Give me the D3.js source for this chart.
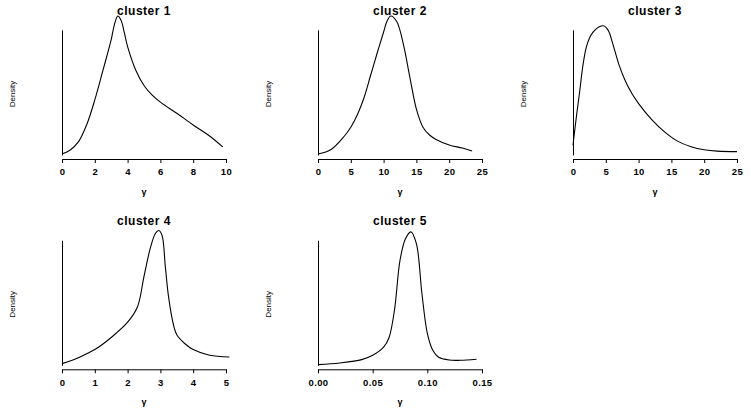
<!DOCTYPE html>
<html>
<head>
<meta charset="utf-8">
<script src="https://cdn.jsdelivr.net/npm/d3@7"></script>
<style>
  html, body { margin: 0; padding: 0; background: #fff; }
  svg { display: block; }
  .title { font-family: "Liberation Sans", Arial, sans-serif; font-weight: bold; font-size: 12px; letter-spacing: 0.5px; }
  .tick text { font-family: "Liberation Sans", Arial, sans-serif; font-weight: bold; font-size: 9.5px; letter-spacing: 0.4px; }
  .ylab { font-family: "Liberation Sans", Arial, sans-serif; font-size: 8px; }
  .xlab { font-family: "Liberation Sans", Arial, sans-serif; font-size: 9px; font-weight: bold; }
</style>
</head>
<body>
<script>
// ---- data (relative density) ----
const titles = ["cluster 1", "cluster 2", "cluster 3", "cluster 4", "cluster 5"];
const xLabel = "γ";
const yLabel = "Density";

const c1Ticks = [0, 2, 4, 6, 8, 10];
const c1X = [0, 0.5, 1, 1.5, 2, 2.5, 3, 3.2, 3.4, 3.6, 3.8, 4, 4.5, 5, 5.5, 6, 7, 8, 9, 9.8];
const c1Y = [0.007, 0.036, 0.094, 0.216, 0.396, 0.61, 0.83, 0.94, 1.0, 0.97, 0.88, 0.78, 0.61, 0.50, 0.43, 0.38, 0.30, 0.216, 0.137, 0.058];

const c2Ticks = [0, 5, 10, 15, 20, 25];
const c2X = [0, 2, 4, 5, 6, 7, 8, 9, 10, 10.5, 11.1, 12, 13, 14, 15, 16, 17, 18, 20, 22, 23.5];
const c2Y = [0.007, 0.04, 0.135, 0.20, 0.29, 0.41, 0.57, 0.73, 0.885, 0.96, 1.0, 0.96, 0.80, 0.56, 0.33, 0.20, 0.144, 0.112, 0.072, 0.05, 0.029];

const c3Ticks = [0, 5, 10, 15, 20, 25];
const c3X = [0, 0.5, 1, 1.5, 2, 2.5, 3, 3.5, 4, 4.6, 5, 5.5, 6, 6.5, 7, 8, 9, 10, 12, 14, 16, 18, 20, 22, 25];
const c3Y = [0.07, 0.27, 0.45, 0.64, 0.77, 0.84, 0.88, 0.905, 0.922, 0.93, 0.92, 0.885, 0.81, 0.73, 0.65, 0.53, 0.44, 0.37, 0.255, 0.165, 0.098, 0.06, 0.038, 0.028, 0.024];

const c4Ticks = [0, 1, 2, 3, 4, 5];
const c4X = [0, 0.5, 1, 1.5, 2, 2.3, 2.5, 2.7, 2.85, 2.95, 3.05, 3.15, 3.25, 3.4, 3.5, 3.75, 4, 4.5, 5.1];
const c4Y = [0.012, 0.055, 0.113, 0.2, 0.31, 0.42, 0.64, 0.85, 0.95, 0.97, 0.935, 0.71, 0.49, 0.29, 0.22, 0.155, 0.113, 0.072, 0.06];

const c5Ticks = [0.00, 0.05, 0.10, 0.15];
const c5X = [0, 0.02, 0.04, 0.05, 0.06, 0.065, 0.07, 0.075, 0.08, 0.085, 0.09, 0.095, 0.1, 0.105, 0.11, 0.12, 0.13, 0.145];
const c5Y = [0.005, 0.017, 0.041, 0.072, 0.13, 0.20, 0.40, 0.755, 0.91, 0.96, 0.875, 0.52, 0.23, 0.108, 0.06, 0.038, 0.036, 0.043];

const xMax = [10, 25, 25, 5, 0.15];
const tickFmt = [d3.format("d"), d3.format("d"), d3.format("d"), d3.format("d"), d3.format(".2f")];
const allX = [c1X, c2X, c3X, c4X, c5X];
const allY = [c1Y, c2Y, c3Y, c4Y, c5Y];
const allTicks = [c1Ticks, c2Ticks, c3Ticks, c4Ticks, c5Ticks];

// ---- layout ----
const W = 751, H = 415;
const colLeft = [62, 318, 573];
const rowAxis = [159, 369.3];
const plotW = 164;

const svg = d3.select("body").append("svg").attr("width", W).attr("height", H);

titles.forEach((t, i) => {
  const col = i % 3, row = Math.floor(i / 3);
  const x0 = colLeft[col], axisY = rowAxis[row];
  const g = svg.append("g");
  const x = d3.scaleLinear().domain([0, xMax[i]]).range([x0, x0 + plotW]);
  const y = d3.scaleLinear().domain([0, 1]).range([axisY - 4, axisY - 143]);

  // x axis
  const xa = g.append("g").attr("transform", `translate(0,${axisY})`)
    .call(d3.axisBottom(x).tickValues(allTicks[i]).tickFormat(tickFmt[i]).tickSize(4).tickSizeOuter(0).tickPadding(5.5));
  xa.selectAll("path, line").attr("stroke", "#000").attr("stroke-width", 1);
  xa.selectAll("text").attr("fill", "#000");

  // y axis line (no ticks)
  const ya = g.append("g").attr("transform", `translate(${x0},0)`)
    .call(d3.axisLeft(y.copy().domain([0, 0.9]).range([y(0), y(0.9)])).tickValues([]).tickSizeOuter(0));
  ya.select("path").attr("stroke", "#000").attr("stroke-width", 1);

  // curve
  const pts = allX[i].map((v, k) => [v, allY[i][k]]);
  g.append("path")
    .attr("d", d3.line().x(d => x(d[0])).y(d => y(d[1])).curve(d3.curveCatmullRom.alpha(0.5))(pts))
    .attr("fill", "none").attr("stroke", "#000").attr("stroke-width", 1.1);

  // title
  g.append("text").attr("class", "title").attr("text-anchor", "middle")
    .attr("x", x0 + plotW / 2).attr("y", axisY - 144).text(t);

  // x label
  g.append("text").attr("class", "xlab").attr("text-anchor", "middle")
    .attr("x", x0 + plotW / 2).attr("y", axisY + 36).text(xLabel);

  // y label
  g.append("text").attr("class", "ylab").attr("text-anchor", "middle")
    .attr("transform", `translate(${x0 - 47},${axisY - 65}) rotate(-90)`).text(yLabel);
});
</script>
</body>
</html>
